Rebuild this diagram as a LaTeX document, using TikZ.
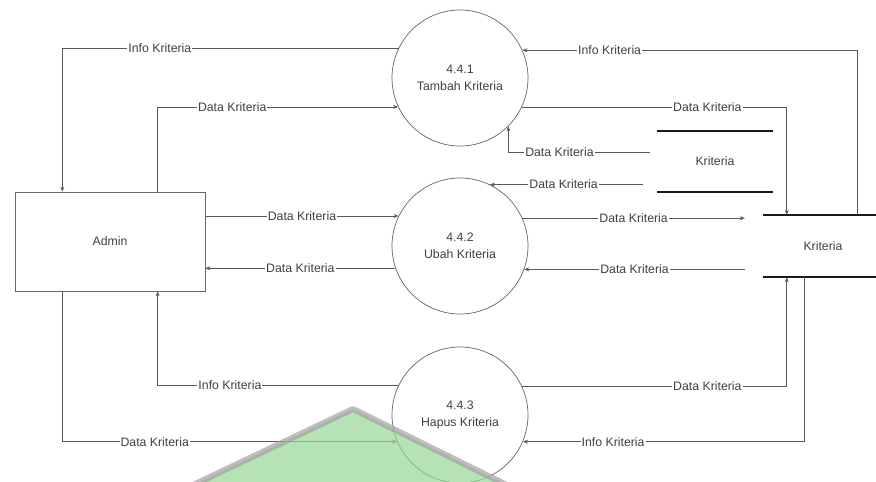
\documentclass[tikz,border=0pt]{standalone}
\usepackage{fontspec}
\setmainfont{Liberation Sans}
\usetikzlibrary{arrows.meta,calc}

\definecolor{wmhijau}{RGB}{150,215,150}
\definecolor{wmabu}{RGB}{165,160,165}

\begin{document}
\begin{tikzpicture}[x=1pt,y=-1pt,
  every node/.style={font=\fontsize{12.3}{17}\selectfont, text=black!75},
  proses/.style={circle, draw=black!60, line width=0.7pt, minimum size=136pt, inner sep=0pt, align=center},
  entitas/.style={rectangle, draw=black!60, line width=0.7pt, minimum width=190pt, minimum height=99pt},
  gudang/.style={minimum height=62pt, inner sep=0pt},
  garis/.style={line width=2.5pt, black!90},
  alir/.style={draw=black!65, line width=0.7pt, -{Stealth[length=5pt,width=4pt]}},
  lbl/.style={fill=white, inner sep=1pt}]
  \useasboundingbox (0,0) rectangle (876,482);

  % ---- entitas dan proses ----
  \node[entitas] (admin) at (110,241.5) {Admin};
  \node[proses] (p441) at (460,78)  {4.4.1\\Tambah Kriteria};
  \node[proses] (p442) at (460,246) {4.4.2\\Ubah Kriteria};
  \node[proses] (p443) at (460,415) {4.4.3\\Hapus Kriteria};

  % ---- data store ----
  \node[gudang, minimum width=115pt, minimum height=61pt] (kriteriaA) at (715,161.5) {Kriteria};
  \draw[garis] (kriteriaA.north west) -- (kriteriaA.north east);
  \draw[garis] (kriteriaA.south west) -- (kriteriaA.south east);
  \node[gudang, minimum width=120pt] (kriteriaB) at (823,246) {Kriteria};
  \draw[garis] (kriteriaB.north west) -- (kriteriaB.north east);
  \draw[garis] (kriteriaB.south west) -- (kriteriaB.south east);

  % titik sambung
  \coordinate (adm1) at ($(admin.north west)!0.25!(admin.north east)$);
  \coordinate (adm2) at ($(admin.north west)!0.75!(admin.north east)$);
  \coordinate (adm3) at ($(admin.south west)!0.75!(admin.south east)$);
  \coordinate (adm4) at ($(admin.south west)!0.25!(admin.south east)$);
  \coordinate (sb1) at ($(kriteriaB.north west)+(24,0)$);
  \coordinate (sb2) at ($(kriteriaB.north west)+(95,0)$);
  \coordinate (sb3) at ($(kriteriaB.south west)+(24,0)$);
  \coordinate (sb4) at ($(kriteriaB.south west)+(42,0)$);

  % ---- 4.4.1 ----
  \draw[alir] (p441.154) -| (adm1) node[lbl, pos=0.355] {Info Kriteria};
  \draw[alir] (adm2) |- (p441.205) node[lbl, pos=0.655] {Data Kriteria};
  \draw[alir] (sb2) |- (p441.24) node[lbl, pos=0.87] {Info Kriteria};
  \draw[alir] (p441.-25) -| (sb1) node[lbl, pos=0.35] {Data Kriteria};
  \draw[alir] ($(kriteriaA.west)+(-7,-9.5)$) -| (p441.-45) node[lbl, pos=0.32] {Data Kriteria};

  % ---- 4.4.2 ----
  \draw[alir] ($(kriteriaA.west |- p442.64)+(-14,0)$) -- (p442.64) node[lbl, pos=0.52] {Data Kriteria};
  \draw[alir] (admin.east |- p442.154) -- (p442.154) node[lbl, midway] {Data Kriteria};
  \draw[alir] (p442.199) -- (admin.east |- p442.199) node[lbl, midway] {Data Kriteria};
  \draw[alir] (p442.24) -- ($(kriteriaB.west |- p442.24)+(-18,0)$) node[lbl, midway] {Data Kriteria};
  \draw[alir] ($(kriteriaB.west |- p442.-20)+(-18,0)$) -- (p442.-20) node[lbl, midway] {Data Kriteria};

  % ---- 4.4.3 ----
  \draw[alir] (p443.154) -| (adm3) node[lbl, pos=0.35] {Info Kriteria};
  \draw[alir] (adm4) |- (p443.203) node[lbl, pos=0.638] {Data Kriteria};
  \draw[alir] (p443.25) -| (sb3) node[lbl, pos=0.35] {Data Kriteria};
  \draw[alir] (sb4) |- (p443.-23) node[lbl, pos=0.84] {Info Kriteria};

  % tanda air di bawah
  \filldraw[fill=wmhijau, draw=wmabu, line width=6pt, line join=round, opacity=0.7]
    (170,496) -- (353,409) -- (529,496) -- cycle;
\end{tikzpicture}
\end{document}
